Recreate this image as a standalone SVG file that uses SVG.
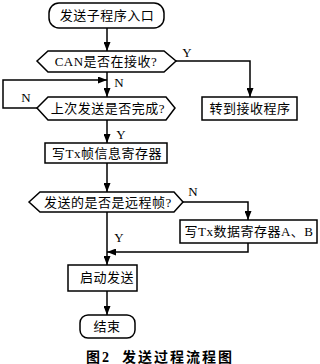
<svg xmlns="http://www.w3.org/2000/svg" width="320" height="364" viewBox="0 0 320 364">
<style>
.s{fill:#fff;stroke:#000;stroke-width:1.5}
.t{font-family:"Liberation Serif","Noto Sans CJK SC",serif;font-size:13px;fill:#000;text-anchor:middle;letter-spacing:0.5px}
.l{font-family:"Liberation Serif",serif;font-size:13px;fill:#000;text-anchor:middle}
.c{fill:none;stroke:#000;stroke-width:1.5}
</style>
<defs>
<marker id="a" markerUnits="userSpaceOnUse" markerWidth="9" markerHeight="7" refX="9" refY="3.5" orient="auto">
<path d="M0,0 L9,3.5 L0,7 z" fill="#000"/>
</marker>
</defs>
<g id="connectors">
<path class="c" d="M107,28 V51" marker-end="url(#a)"/>
<path class="c" d="M176,61 H250 V97" marker-end="url(#a)"/>
<path class="c" d="M107,72 V97" marker-end="url(#a)"/>
<path class="c" d="M37,108 H3 V80 H107" marker-end="url(#a)"/>
<path class="c" d="M107,120 V143" marker-end="url(#a)"/>
<path class="c" d="M107,163 V192" marker-end="url(#a)"/>
<path class="c" d="M183,202 H248 V220" marker-end="url(#a)"/>
<path class="c" d="M248,243 V252 H107" marker-end="url(#a)"/>
<path class="c" d="M107,212 V265" marker-end="url(#a)"/>
<path class="c" d="M107,291 V315" marker-end="url(#a)"/>
<text class="l" x="187" y="57">Y</text>
<text class="l" x="119" y="87">N</text>
<text class="l" x="26" y="102">N</text>
<text class="l" x="121" y="139">Y</text>
<text class="l" x="193" y="196">N</text>
<text class="l" x="119" y="242">Y</text>
</g>
<g id="start">
<rect class="s" x="49" y="3" width="115" height="25" rx="10"/>
<text class="t" x="107" y="20">发送子程序入口</text>
</g>
<g id="d1">
<polygon class="s" points="37,61 48,51 164,51 176,61 164,72 48,72"/>
<text class="t" x="106" y="66">CAN是否在接收?</text>
</g>
<g id="recv">
<rect class="s" x="202" y="97" width="95" height="23"/>
<text class="t" x="250" y="113">转到接收程序</text>
</g>
<g id="d2">
<polygon class="s" points="37,108 48,97 166,97 175,108 166,120 48,120"/>
<text class="t" x="108" y="113">上次发送是否完成?</text>
</g>
<g id="frame">
<rect class="s" x="45" y="143" width="122" height="20"/>
<text class="t" x="107" y="158">写Tx帧信息寄存器</text>
</g>
<g id="d3">
<polygon class="s" points="29,202 40,192 174,192 183,202 174,212 40,212"/>
<text class="t" x="108" y="207">发送的是否是远程帧?</text>
</g>
<g id="data">
<rect class="s" x="180" y="220" width="137" height="23"/>
<text class="t" x="249" y="236">写Tx数据寄存器A、B</text>
</g>
<g id="send">
<rect class="s" x="68" y="265" width="69" height="26"/>
<text class="t" x="107" y="282">启动发送</text>
</g>
<g id="end">
<rect class="s" x="80" y="315" width="55" height="23" rx="8"/>
<text class="t" x="107" y="331">结束</text>
</g>
<text x="160" y="362" style="font-family:'Liberation Serif','Noto Sans CJK SC',serif;font-size:14px;text-anchor:middle;letter-spacing:2px;font-weight:bold" xml:space="preserve">图2  发送过程流程图</text>
</svg>
